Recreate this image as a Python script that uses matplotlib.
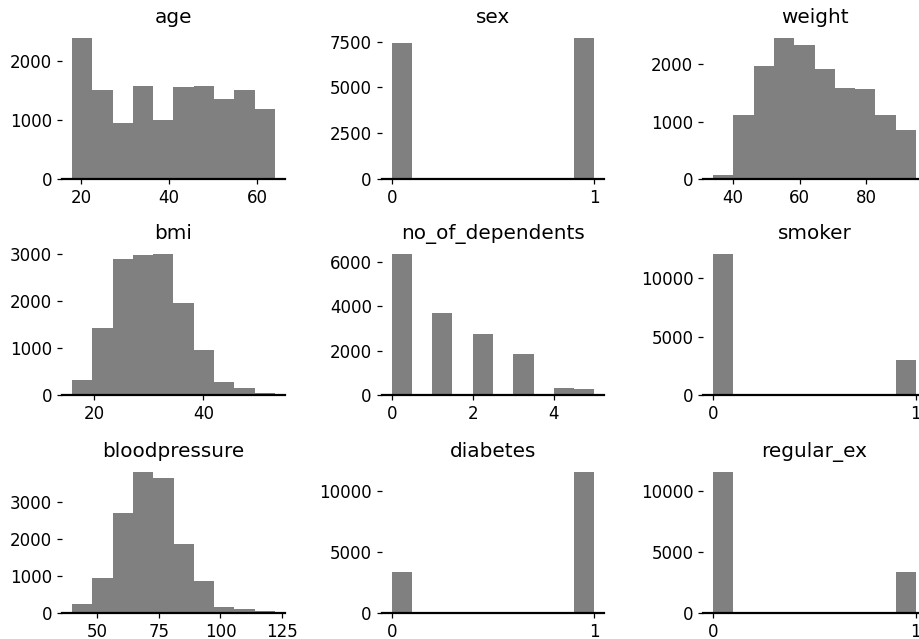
import numpy as np
import matplotlib
matplotlib.use("Agg")
import matplotlib.pyplot as plt

plt.rcParams['font.family'] = 'DejaVu Sans'
plt.rcParams['font.size'] = 12

#%% data (counts per bin, 10 bins each)
age_range = (18, 64)
age_counts = [2390, 1508, 949, 1576, 1000, 1559, 1576, 1356, 1508, 1186]

sex_values = [0, 1]
sex_counts = [7430, 7700]

weight_range = (34, 95)
weight_counts = [70, 1116, 1971, 2459, 2337, 1919, 1587, 1570, 1116, 855]

bmi_range = (16, 53.1)
bmi_counts = [329, 1429, 2900, 2986, 3007, 1957, 950, 271, 157, 36]

dependents_values = [0, 1, 2, 3, 4, 5]
dependents_counts = [6346, 3676, 2731, 1830, 300, 255]

smoker_values = [0, 1]
smoker_counts = [12086, 2971]

bp_range = (40, 122)
bp_counts = [234, 937, 2694, 3802, 3640, 1856, 865, 153, 99, 45]

diabetes_values = [0, 1]
diabetes_counts = [3352, 11593]

regular_ex_values = [0, 1]
regular_ex_counts = [11593, 3352]

titles = ['age', 'sex', 'weight', 'bmi', 'no_of_dependents', 'smoker',
          'bloodpressure', 'diabetes', 'regular_ex']
binary = ['sex', 'smoker', 'diabetes', 'regular_ex']


def binned(rng, counts):
    edges = np.linspace(rng[0], rng[1], len(counts) + 1)
    return edges[:-1], edges


panels = [
    (*binned(age_range, age_counts), age_counts),
    (sex_values, 10, sex_counts),
    (*binned(weight_range, weight_counts), weight_counts),
    (*binned(bmi_range, bmi_counts), bmi_counts),
    (dependents_values, 10, dependents_counts),
    (smoker_values, 10, smoker_counts),
    (*binned(bp_range, bp_counts), bp_counts),
    (diabetes_values, 10, diabetes_counts),
    (regular_ex_values, 10, regular_ex_counts),
]

#%% layout in pixels (third column runs past the right edge, like the reference)
W, H = 920, 639
fig = plt.figure(figsize=(W / 100, H / 100), dpi=100)
col_left = [62, 381.5, 703]
row_bottom = [179, 395, 613]
ax_w, ax_h = 223, 148

for i, (vals, bins, counts) in enumerate(panels):
    r, c = divmod(i, 3)
    ax = fig.add_axes([col_left[c] / W, (H - row_bottom[r]) / H, ax_w / W, ax_h / H])
    ax.hist(vals, bins=bins, weights=counts, color='grey')
    ax.set_title(titles[i], fontsize=14.4)
    if titles[i] in binary:
        ax.set_xticks([0, 1])
    for s in ['top', 'right', 'left']:
        ax.spines[s].set_visible(False)
    ax.spines['bottom'].set_linewidth(1.6)
    ax.spines['bottom'].set_color('black')
    ax.tick_params(colors='black', length=3.5, width=0.9)
    ax.grid(False)

fig.savefig('out.png', dpi=100)
